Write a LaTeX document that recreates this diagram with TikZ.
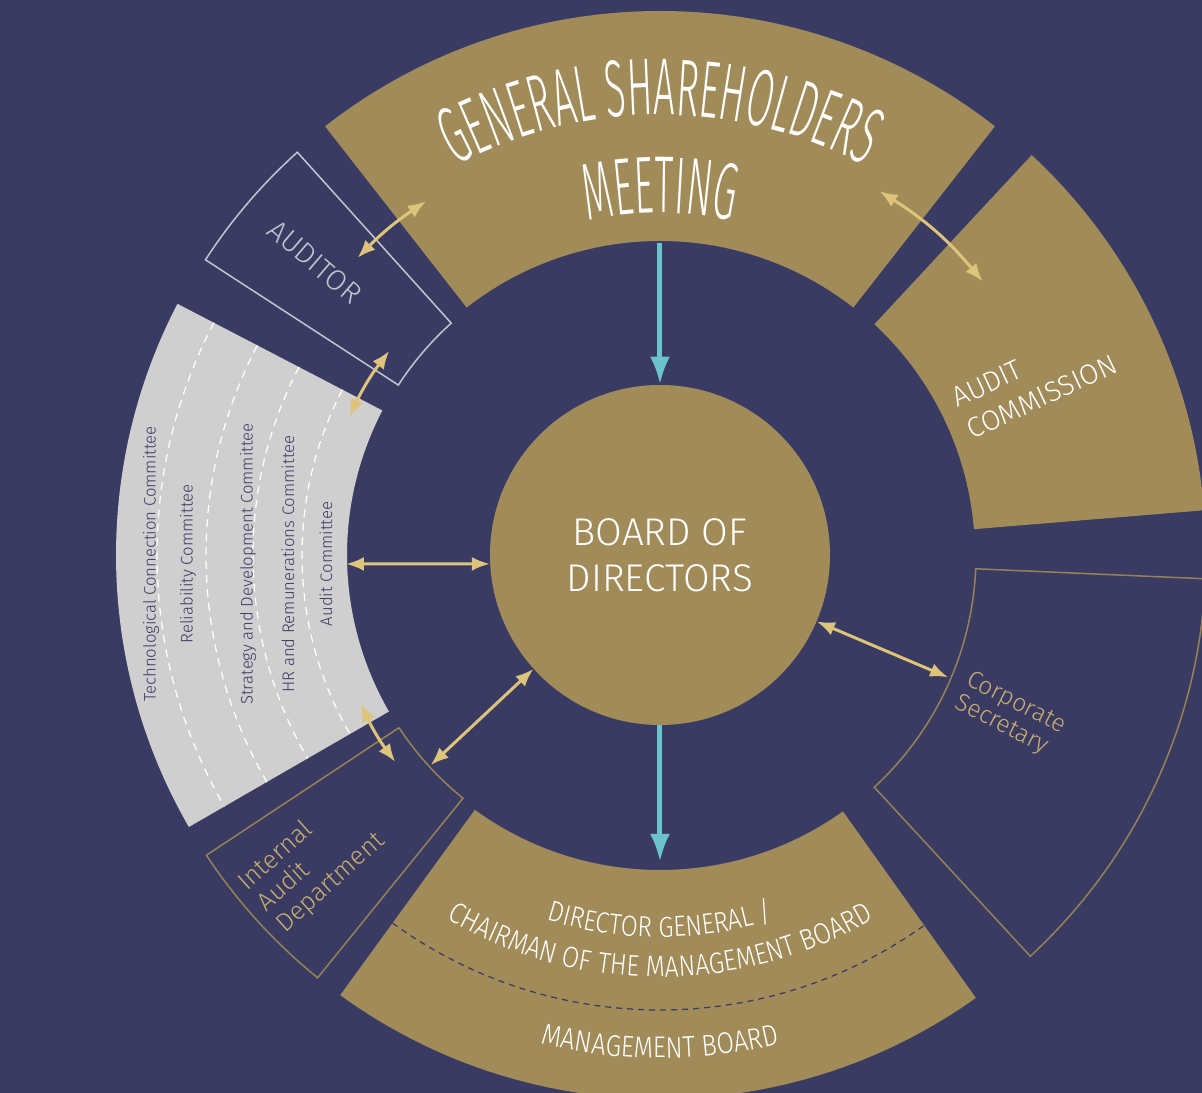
\documentclass[tikz,border=0pt]{standalone}
\usepackage{fontspec}
\IfFontExistsTF{Fira Sans Light}{\def\basefam{Fira Sans Light}}{\def\basefam{Fira Sans}}
\IfFontExistsTF{Fira Sans Book}{\def\tallfam{Fira Sans Book}}{\def\tallfam{\basefam}}
\setmainfont{\basefam}
\newfontfamily\tallfont{\tallfam}[FakeStretch=0.47]
\newfontfamily\narrowfont{\basefam}[FakeStretch=0.85]
\usetikzlibrary{arrows.meta,decorations.text}

\definecolor{navy}{RGB}{58,59,99}
\definecolor{gold}{RGB}{161,139,89}
\definecolor{linkgold}{RGB}{222,196,122}
\definecolor{cmtgray}{RGB}{207,207,207}
\definecolor{cyanblue}{RGB}{108,195,205}
\definecolor{edgegold}{RGB}{150,130,86}
\definecolor{textgold}{RGB}{201,174,112}
\definecolor{edgegray}{RGB}{196,196,208}

% piece of the ring : from angle, to angle, inner radius, outer radius
\newcommand{\ringpart}[4]{(#1:#3) arc[start angle=#1, end angle=#2, radius=#3] -- (#2:#4) arc[start angle=#2, end angle=#1, radius=#4] -- cycle}

\begin{document}
\begin{tikzpicture}[x=0.2mm, y=0.2mm]
    \tikzset{
      box/.style={draw=edgegold, line width=0.3mm},
      link/.style={draw=linkgold, line width=0.6mm, {Latex[length=3.6mm,width=2.8mm]}-{Latex[length=3.6mm,width=2.8mm]}},
      flow/.style={draw=cyanblue, line width=1mm, -{Latex[length=5.6mm,width=4mm]}},
      cmt/.style={rotate=90, inner sep=0pt, text=navy, font=\fontsize{9.5}{11}\selectfont},
      lbl/.style={inner sep=0pt, align=left},
      arctext/.style={decorate, decoration={text along path, text align=center, text color=white, text={#1}}}
    }
    \useasboundingbox (-660,-538) rectangle (542,555);
    \clip (-660,-538) rectangle (542,555);
    \fill[navy] (-660,-538) rectangle (542,555);
    % top : general shareholders meeting
    \fill[gold] \ringpart{52}{128}{314}{544};
    \path[arctext={|\tallfont\fontsize{46}{46}\selectfont|GENERAL SHAREHOLDERS}] (132:440) arc[start angle=132, end angle=48, radius=440];
    \path[arctext={|\tallfont\fontsize{46}{46}\selectfont|MEETING}] (125:342) arc[start angle=125, end angle=55, radius=342];
    % auditor
    \draw[draw=edgegray, line width=0.3mm] \ringpart{132}{147}{312}{542};
    \node[lbl, text=edgegray, rotate=-40.5, font=\fontsize{16.5}{18}\selectfont] (auditor) at (-345,293) {AUDITOR};
    % committees, one band each
    \fill[cmtgray] \ringpart{152.5}{210}{313}{544};
    \foreach \rad in {358,407,454,503}
      \draw[white, line width=0.25mm, dash pattern=on 1.6mm off 1.2mm] (152.5:\rad) arc[start angle=152.5, end angle=210, radius=\rad];
    \node[cmt] (tcc) at (-509,-9) {Technological Connection Committee};
    \node[cmt] (rc) at (-472,-9) {Reliability Committee};
    \node[cmt] (sdc) at (-412,-9) {Strategy and Development Committee};
    \node[cmt] (hrc) at (-372,-9) {HR and Remunerations Committee};
    \node[cmt] (acm) at (-334,-9) {Audit Committee};
    % internal audit
    \draw[box] \ringpart{213.5}{231}{313}{544};
    \node[lbl, text=textgold, rotate=42, font=\fontsize{14.5}{16}\selectfont] (iad) at (-348,-307) {Internal\\Audit\\Department};
    % bottom : management board
    \fill[gold] \ringpart{234}{305.5}{315}{544};
    \draw[navy, line width=0.25mm, dash pattern=on 1.2mm off 1mm] (234:455) arc[start angle=234, end angle=305.5, radius=455];
    \path[arctext={|\narrowfont\fontsize{16.5}{17}\selectfont|DIRECTOR GENERAL /}] (230:382) arc[start angle=230, end angle=310, radius=382];
    \path[arctext={|\narrowfont\fontsize{16.8}{17}\selectfont|CHAIRMAN OF THE MANAGEMENT BOARD}] (230:422) arc[start angle=230, end angle=310, radius=422];
    \path[arctext={|\narrowfont\fontsize{17}{17}\selectfont|MANAGEMENT BOARD}] (230:503) arc[start angle=230, end angle=310, radius=503];
    % corporate secretary
    \draw[box] \ringpart{312.7}{357.5}{316}{546};
    \node[lbl, text=textgold, rotate=-27, font=\fontsize{14}{14.8}\selectfont] (cs) at (350,-160) {Corporate\\Secretary};
    % audit commission
    \fill[gold] \ringpart{4.7}{47.1}{315}{546};
    \node[lbl, text=white, rotate=25, font=\fontsize{16}{20}\selectfont] (ac) at (374.5,174) {AUDIT\\COMMISSION};
    % centre : board of directors
    \node[circle, fill=gold, minimum size=68mm, inner sep=0pt, align=center, text=white, font=\fontsize{22}{26}\selectfont] (bod) at (0,0) {BOARD OF\\DIRECTORS};
    % ends of the connectors
    \coordinate (gsm-in) at (90:312);
    \coordinate (mb-in) at (-90:307);
    \coordinate (gsm-l) at (123.5:424);
    \coordinate (aud-r) at (135.5:424);
    \coordinate (gsm-r) at (58.9:425);
    \coordinate (ac-l) at (40.3:423);
    \coordinate (aud-l) at (143:339);
    \coordinate (cmt-t) at (156:340);
    \coordinate (cmt-b) at (206.4:334);
    \coordinate (iad-t) at (218:336);
    \coordinate (cmt-in) at (-314,-9);
    \coordinate (iad-in) at (222.5:311);
    \coordinate (cs-in) at (-23:313);
    % connectors
    \draw[flow] (gsm-in) -- (bod.north);
    \draw[flow] (bod.south) -- (mb-in);
    \draw[link] (gsm-l) to[bend right=6] (aud-r);
    \draw[link] (gsm-r) to[bend left=9] (ac-l);
    \draw[link] (aud-l) to[bend right=6] (cmt-t);
    \draw[link] (cmt-b) to[bend right=6] (iad-t);
    \draw[link] (cmt-in) -- (bod.183);
    \draw[link] (iad-in) -- (bod.222.5);
    \draw[link] (bod.-23) -- (cs-in);
\end{tikzpicture}
\end{document}
